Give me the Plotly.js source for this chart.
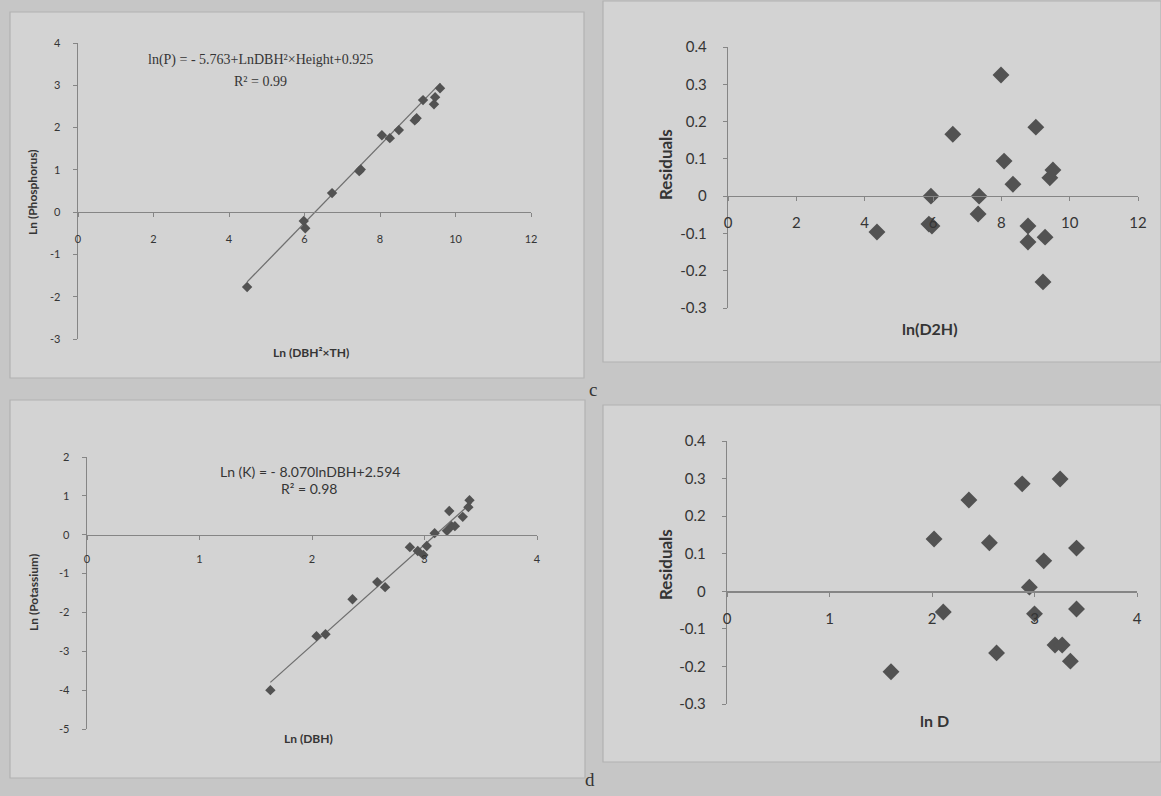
<!DOCTYPE html>
<html><head><meta charset="utf-8">
<script src="https://cdn.plot.ly/plotly-3.0.1.min.js"></script>
<style>html,body{margin:0;padding:0;background:#c6c6c6;}#chart{width:1161px;height:796px;}</style>
</head><body><div id="chart"></div>
<script>
// ---- Data ----
// (a) Ln(Phosphorus) vs Ln(DBH²×TH)
const pX = [4.48, 5.98, 6.02, 6.73, 7.45, 7.49, 8.05, 8.26, 8.50, 8.92, 8.97, 9.14, 9.43, 9.46, 9.59];
const pY = [-1.77, -0.21, -0.38, 0.45, 0.97, 1.01, 1.82, 1.75, 1.94, 2.17, 2.22, 2.65, 2.55, 2.72, 2.93];
const pTrendX = [4.48, 9.6];
const pTrendY = [-1.65, 3.05];
// (c) residuals vs ln(D2H)
const pResX = [4.36, 5.94, 5.88, 5.97, 6.58, 7.35, 7.32, 7.99, 8.08, 8.34, 8.78, 8.78, 9.01, 9.28, 9.22, 9.42, 9.51];
const pResY = [-0.096, 0.0, -0.075, -0.08, 0.166, 0.0, -0.048, 0.325, 0.094, 0.032, -0.08, -0.123, 0.185, -0.11, -0.23, 0.049, 0.07];
// (b) Ln(Potassium) vs Ln(DBH)
const kX = [1.63, 2.04, 2.12, 2.36, 2.58, 2.65, 2.87, 2.94, 2.99, 3.02, 3.09, 3.20, 3.22, 3.24, 3.27, 3.34, 3.39, 3.40];
const kY = [-4.0, -2.61, -2.56, -1.66, -1.22, -1.35, -0.32, -0.42, -0.52, -0.29, 0.04, 0.10, 0.61, 0.22, 0.22, 0.46, 0.71, 0.89];
const kTrendX = [1.63, 3.42];
const kTrendY = [-3.8, 0.83];
// (d) residuals vs ln D
const kResX = [1.60, 2.02, 2.11, 2.36, 2.56, 2.63, 2.88, 2.95, 3.00, 3.09, 3.25, 3.20, 3.27, 3.35, 3.41, 3.41];
const kResY = [-0.214, 0.139, -0.055, 0.243, 0.129, -0.164, 0.286, 0.011, -0.06, 0.081, 0.299, -0.143, -0.143, -0.186, -0.047, 0.115];

// tick values / labels
const tlXTicks = [0, 2, 4, 6, 8, 10, 12];
const tlXLabels = ['0', '2', '4', '6', '8', '10', '12'];
const tlYTicks = [-3, -2, -1, 0, 1, 2, 3, 4];
const tlYLabels = ['-3', '-2', '-1', '0', '1', '2', '3', '4'];
const resYTicks = [-0.3, -0.2, -0.1, 0, 0.1, 0.2, 0.3, 0.4];
const resYLabels = ['-0.3', '-0.2', '-0.1', '0', '0.1', '0.2', '0.3', '0.4'];
const blXTicks = [0, 1, 2, 3, 4];
const blXLabels = ['0', '1', '2', '3', '4'];
const blYTicks = [-5, -4, -3, -2, -1, 0, 1, 2];
const blYLabels = ['-5', '-4', '-3', '-2', '-1', '0', '1', '2'];

// text
const eqP = 'ln(P) = - 5.763+LnDBH²×Height+0.925';
const r2P = 'R² = 0.99';
const eqK = 'Ln (K) = - 8.070lnDBH+2.594';
const r2K = 'R² = 0.98';

// ---- Layout helpers ----
const W = 1161, H = 796;
const fx = v => v / W;
const fy = v => 1 - v / H;
const AX = '#858585', TXT = '#353535', MK = '#525252';
const sans = 'Lato, "Open Sans", sans-serif';
const serif = '"Liberation Serif", serif';

function axes(xpx0, xpx1, ypxTop, ypxBot, xr, yr, xt, xl, yt, yl, fs, xstand, ystand) {
  const yd = [fy(ypxBot), fy(ypxTop)];
  const zeroPos = yd[0] + (0 - yr[0]) / (yr[1] - yr[0]) * (yd[1] - yd[0]);
  const x = {
    domain: [fx(xpx0), fx(xpx1)], range: xr, anchor: 'free', position: zeroPos,
    showline: true, linecolor: AX, linewidth: 1.3, showgrid: false, zeroline: false,
    ticks: 'outside', ticklen: 4, tickcolor: AX, tickvals: xt, ticktext: xl,
    tickfont: {family: sans, size: fs, color: TXT}, ticklabelstandoff: xstand, fixedrange: true
  };
  const y = {
    domain: yd, range: yr, showline: true, linecolor: AX, linewidth: 1.3, showgrid: false,
    zeroline: false, ticks: 'outside', ticklen: 4, tickcolor: AX, tickvals: yt, ticktext: yl,
    tickfont: {family: sans, size: fs, color: TXT}, ticklabelstandoff: ystand, fixedrange: true
  };
  return [x, y];
}

const [x1, y1] = axes(78, 531, 43, 339, [0, 12], [-3, 4], tlXTicks, tlXLabels, tlYTicks, tlYLabels, 11, 12, 10);
const [x2, y2] = axes(728, 1138, 47, 308, [0, 12], [-0.3, 0.4], tlXTicks, tlXLabels, resYTicks, resYLabels, 15, 9, 13);
const [x3, y3] = axes(87, 537, 457, 729, [0, 4], [-5, 2], blXTicks, blXLabels, blYTicks, blYLabels, 11, 10, 10);
const [x4, y4] = axes(727, 1137, 441, 704, [0, 4], [-0.3, 0.4], blXTicks, blXLabels, resYTicks, resYLabels, 15, 9, 13);
y1.anchor = 'x'; y2.anchor = 'x2'; y3.anchor = 'x3'; y4.anchor = 'x4';

const mk = s => ({symbol: 'diamond', size: s, color: MK, line: {width: 0}});
const line = {color: '#6f6f6f', width: 1.3};

const traces = [
  {x: pTrendX, y: pTrendY, mode: 'lines', line: line, xaxis: 'x', yaxis: 'y', hoverinfo: 'skip'},
  {x: pX, y: pY, mode: 'markers', marker: mk(8), xaxis: 'x', yaxis: 'y'},
  {x: pResX, y: pResY, mode: 'markers', marker: mk(13), xaxis: 'x2', yaxis: 'y2'},
  {x: kTrendX, y: kTrendY, mode: 'lines', line: line, xaxis: 'x3', yaxis: 'y3', hoverinfo: 'skip'},
  {x: kX, y: kY, mode: 'markers', marker: mk(8), xaxis: 'x3', yaxis: 'y3'},
  {x: kResX, y: kResY, mode: 'markers', marker: mk(13), xaxis: 'x4', yaxis: 'y4'}
];

function box(x0, y0, x1p, y1p) {
  return {type: 'rect', xref: 'paper', yref: 'paper', x0: fx(x0), x1: fx(x1p), y0: fy(y1p), y1: fy(y0),
    fillcolor: '#d3d3d3', line: {color: '#b2b2b2', width: 1.2}, layer: 'below'};
}

function note(text, xp, yp, size, opts) {
  return Object.assign({text: text, x: fx(xp), y: fy(yp), xref: 'paper', yref: 'paper', showarrow: false,
    xanchor: 'center', yanchor: 'middle', font: {family: sans, size: size, color: TXT}}, opts || {});
}

const annotations = [
  note(eqP, 260, 60, 14, {font: {family: serif, size: 14, color: TXT}}),
  note(r2P, 260, 82, 14, {font: {family: serif, size: 14, color: TXT}}),
  note('<b>Ln (Phosphorus)</b>', 33, 192, 12, {textangle: -90}),
  note('<b>Ln (DBH²×TH)</b>', 311, 352, 12),
  note('<b>Residuals</b>', 666, 165, 17, {textangle: -90}),
  note('<b>ln(D2H)</b>', 930, 328, 16),
  note('c', 593, 389, 19, {font: {family: serif, size: 19, color: TXT}}),
  note(eqK, 310, 471, 14),
  note(r2K, 309, 488, 14),
  note('<b>Ln (Potassium)</b>', 33, 593, 12, {textangle: -90}),
  note('<b>Ln (DBH)</b>', 308, 738, 12),
  note('<b>Residuals</b>', 665, 565, 17, {textangle: -90}),
  note('<b>ln D</b>', 934, 720, 16),
  note('d', 590, 779, 19, {font: {family: serif, size: 19, color: TXT}})
];

const layout = {
  width: W, height: H, margin: {l: 0, r: 0, t: 0, b: 0},
  paper_bgcolor: '#c6c6c6', plot_bgcolor: 'rgba(0,0,0,0)', showlegend: false,
  xaxis: x1, yaxis: y1, xaxis2: x2, yaxis2: y2, xaxis3: x3, yaxis3: y3, xaxis4: x4, yaxis4: y4,
  shapes: [box(10, 12, 584, 378), box(603, 1, 1161, 362), box(10, 400, 585, 778), box(603, 405, 1161, 762)],
  annotations: annotations
};

Plotly.newPlot('chart', traces, layout, {displayModeBar: false, staticPlot: true});
</script></body></html>
